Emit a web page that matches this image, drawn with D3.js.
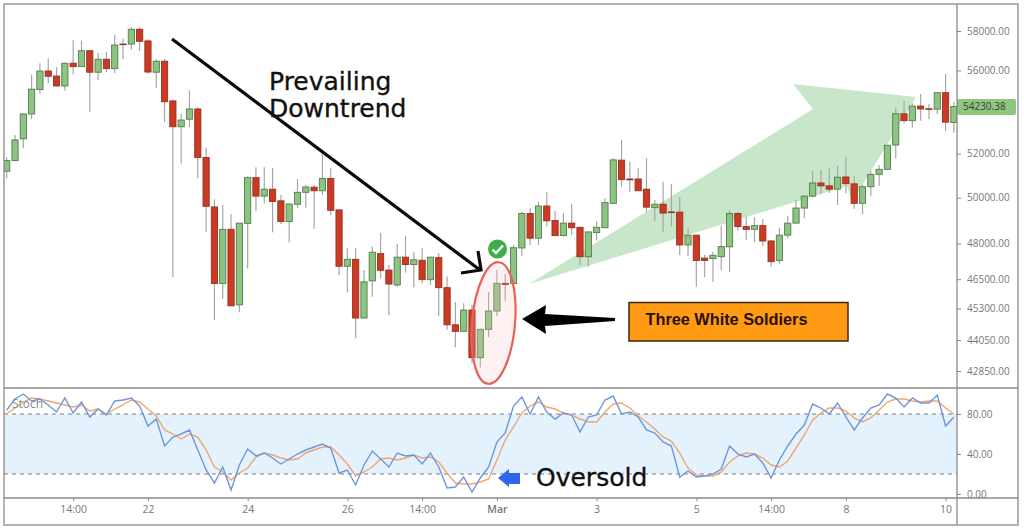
<!DOCTYPE html>
<html><head><meta charset="utf-8">
<script src="https://cdn.jsdelivr.net/npm/d3@7"></script>
<style>html,body{margin:0;padding:0;background:#fff;overflow:hidden}svg{display:block}text{font-family:"Open Sans",sans-serif}</style>
</head><body><svg id="c" width="1024" height="530"></svg>
<script>
const opens=[51190,51680,52690,53870,55050,55970,55720,55230,56360,56190,56990,55910,56560,56090,57330,57330,58090,57490,55910,56460,54500,53260,53620,54110,51820,49590,46320,48610,45450,48870,
50900,50070,50380,49860,48950,49710,50240,50470,50310,50860,49460,47040,47330,44920,46430,47570,46880,46260,47420,47110,47290,46480,47400,46150,44650,44390,45240,43360,44470,45200,
46330,46320,47810,49300,48230,49630,48990,48340,48880,48700,47440,48470,48680,49750,51700,50840,50840,50380,49560,49710,49370,49360,47940,48360,47380,47360,47440,47860,49300,48730,
48610,48770,48110,47280,48360,48880,49540,50070,50660,50530,50380,50930,50620,49750,50490,51050,51280,52400,53880,53550,54250,54120,54100,54900,53460];
const closes=[51680,52640,53870,55070,55970,55710,55230,56360,56190,56990,55910,56560,56090,57280,57300,58090,57470,55920,56460,54460,53260,53580,54110,51820,49620,46320,48610,45410,48880,50900,
50070,50380,49830,48950,49720,50240,50480,50310,50860,49440,47040,47330,44920,46390,47630,46870,46300,47420,47110,47310,46480,47420,46150,44650,44390,45240,43360,44470,45200,46330,
46280,47820,49300,48230,49630,48980,48340,48880,48680,47440,48500,48700,49780,51710,50810,50800,50310,49580,49710,49320,49340,47940,48360,47280,47280,47500,47870,49300,48730,48610,
48770,48110,47230,48360,48880,49540,50070,50660,50530,50380,50920,50630,49750,50490,51050,51280,52390,53880,53550,54250,54110,54100,54900,53480,54230];
const highs=[51830,52870,53900,55790,56360,56610,56160,56400,57540,57500,57030,56890,56940,57800,57610,58190,58190,57580,56560,56590,54550,53870,55020,54190,52280,49930,49680,49270,48880,50950,
51370,51370,51340,50120,49730,50840,50570,50570,52020,51340,49460,47800,47800,46880,47870,48450,47090,47980,48330,47650,47800,47440,47590,46610,45570,45510,45450,44480,45960,46880,
46720,47940,49380,49530,49830,50240,49420,49310,49720,48700,48500,48950,49980,51790,52640,51630,51330,51790,49900,50710,50600,50020,48660,48360,47510,47650,48770,49430,49380,49160,
49140,49050,48150,48680,49190,49900,50120,51200,51250,51330,51430,51860,50960,50570,51200,51480,52400,54170,54500,54390,54840,54350,54920,55820,54460];
const lows=[50870,51650,52250,53620,54850,55360,55200,55000,55810,56190,53970,55530,55910,55860,56560,57040,56980,55820,55130,53490,46580,51540,53250,50870,48510,44840,45690,45410,45150,46950,
49400,49750,48480,48830,48060,49540,49560,48640,50120,49240,46660,45950,44120,44910,45780,46540,45030,46190,46770,46170,46330,46260,44990,44450,43770,44390,43150,42980,44160,45000,
45620,46320,47480,47940,47940,48730,48340,48300,48370,47090,47020,48130,48680,49750,50490,50270,50300,49380,48980,48510,48730,47510,47470,46190,46580,46390,46880,46810,48550,48150,
48060,47900,47020,47140,48230,48880,49090,50020,50150,50220,49680,50200,49500,49280,50090,50520,51250,51790,53430,53220,53540,53620,53870,53060,52980];
const stochK=[84,95,100,93,95,89,82,96,81,92,77,85,79,93,94,96,88,68,75,48,57,60,64,44,24,11,27,4,29,45,38,41,36,30,35,40,44,47,50,46,21,
24,9,29,43,35,27,41,38,39,30,41,27,6,7,17,2,16,27,52,61,88,97,80,97,82,75,81,79,62,77,79,94,98,80,82,77,64,61,52,48,17,
23,17,18,20,25,48,40,37,40,31,16,34,48,60,69,90,86,80,91,77,64,76,86,89,100,96,87,96,91,91,99,68,77];
const stochD=[80,86,92,96,95,93,91,89,87,89,83,85,80,85,89,94,92,85,78,64,60,55,60,57,44,27,22,14,21,26,37,41,39,36,34,35,41,44,47,47,39,
30,18,22,27,35,36,34,36,39,36,37,32,21,11,10,10,12,15,34,54,67,81,88,92,87,85,81,79,75,72,72,82,90,91,86,78,72,65,57,53,41,
26,19,18,18,22,32,38,41,40,36,29,27,33,46,59,74,81,86,86,83,76,72,76,84,92,95,95,93,92,93,93,86,80];
const priceTicks=[58000,56000,52000,50000,48000,46500,45300,44050,42850];
const stochTicks=[80,40,0];
const lastPrice=54230.38;
const timeTickBars=[8,17,29,41,50,59,71,83,92,101,113];
const timeTickLabels=["14:00","22","24","26","14:00","Mar","3","5","14:00","8","10"];
const title1="Prevailing",title2="Downtrend",patternLabel="Three White Soldiers",oversoldLabel="Oversold",stochLabel="Stoch";

const svg=d3.select("#c");
const L=4,T=4,PR=957,R=1018,B=525,DIV=388,TA=498;
const x=d3.scaleLinear().domain([0,114]).range([6.7,953.9]);
const y=d3.scaleLog().domain([58000,42850]).range([31,371]);
const ys=d3.scaleLinear().domain([0,100]).range([494,394]);
const defs=svg.append("defs");
defs.append("clipPath").attr("id","pc").append("rect").attr("x",L).attr("y",T).attr("width",PR-L).attr("height",DIV-T);
defs.append("clipPath").attr("id","sc").append("rect").attr("x",L).attr("y",DIV).attr("width",PR-L).attr("height",TA-DIV);

svg.append("polygon").attr("points","529,284 813,109 793,84 916,97 852,202 847,186").attr("fill","#c8e6c9");

const price=svg.append("g").attr("clip-path","url(#pc)");
const idx=d3.range(opens.length);
price.selectAll(".w").data(idx).join("line").attr("class","w")
 .attr("x1",i=>x(i)).attr("x2",i=>x(i)).attr("y1",i=>y(highs[i])).attr("y2",i=>y(lows[i]))
 .attr("stroke","#a6a6a6").attr("stroke-width",1.2);
price.selectAll(".b").data(idx).join("rect").attr("class","b")
 .attr("x",i=>x(i)-3.1).attr("width",6.2)
 .attr("y",i=>y(Math.max(opens[i],closes[i])))
 .attr("height",i=>Math.max(0.6,Math.abs(y(opens[i])-y(closes[i]))))
 .attr("fill",i=>closes[i]>=opens[i]?"#8ec482":"#cd3a24")
 .attr("stroke",i=>closes[i]>=opens[i]?"#4f7d4c":"#96301f").attr("stroke-width",0.9);

const stoch=svg.append("g").attr("clip-path","url(#sc)");
stoch.append("rect").attr("x",L).attr("width",PR-L).attr("y",ys(80)).attr("height",ys(20)-ys(80)).attr("fill","#e3f2fd");
[80,20].forEach(v=>stoch.append("line").attr("x1",L).attr("x2",PR).attr("y1",ys(v)).attr("y2",ys(v))
 .attr("stroke","#7d7d7d").attr("stroke-width",1).attr("stroke-dasharray","4 4"));
const ln=d3.line().x((d,i)=>x(i)).y(d=>ys(d));
stoch.append("path").attr("d",ln(stochD)).attr("fill","none").attr("stroke","#f0a66e").attr("stroke-width",1.4);
stoch.append("path").attr("d",ln(stochK)).attr("fill","none").attr("stroke","#6e96de").attr("stroke-width",1.4);
svg.append("text").attr("x",12).attr("y",408).attr("font-size",12).attr("fill","#8a8a8a").text(stochLabel);

const gray="#777";
function style(g,size){g.select(".domain").remove();g.selectAll("line").attr("stroke","#888");
 g.selectAll("text").attr("fill",gray).style("font-size",size+"px").style("font-family",'"Open Sans",sans-serif');}
svg.append("g").attr("transform",`translate(${PR},0)`)
 .call(d3.axisRight(y).tickValues(priceTicks).tickFormat(d3.format(".2f")).tickSize(4).tickPadding(6)).call(style,10);
svg.append("g").attr("transform",`translate(${PR},0)`)
 .call(d3.axisRight(ys).tickValues(stochTicks).tickFormat(d3.format(".2f")).tickSize(4).tickPadding(6)).call(style,10);
const xa=svg.append("g").attr("transform",`translate(0,${TA})`)
 .call(d3.axisBottom(x).tickValues(timeTickBars).tickFormat((d,i)=>timeTickLabels[i]).tickSize(3).tickPadding(5)).call(style,10.5);
xa.selectAll("text").filter(d=>d===59).style("font-weight",600);

svg.append("rect").attr("x",PR).attr("y",y(lastPrice)-7.5).attr("width",59).attr("height",16).attr("rx",2).attr("fill","#8fc57f");
svg.append("text").attr("x",PR+6).attr("y",y(lastPrice)+0.5).attr("dy","0.32em").attr("font-size",10).attr("fill","#3c3c3c").text(d3.format(".2f")(lastPrice));

const fr=svg.append("g").attr("stroke","#8a8a8a").attr("stroke-width",1.3).attr("fill","none");
fr.append("rect").attr("x",L).attr("y",T).attr("width",R-L).attr("height",B-T);
fr.append("line").attr("x1",PR).attr("x2",PR).attr("y1",T).attr("y2",B);
fr.append("line").attr("x1",L).attr("x2",R).attr("y1",DIV).attr("y2",DIV);
fr.append("line").attr("x1",L).attr("x2",R).attr("y1",TA).attr("y2",TA);

svg.append("ellipse").attr("transform","translate(493.5,323) rotate(5)").attr("rx",21.5).attr("ry",61)
 .attr("fill","rgba(244,190,190,0.22)").attr("stroke","#e8605a").attr("stroke-width",2.2);
svg.append("path").attr("d","M172,39L480,270").attr("stroke","#0a0a0a").attr("stroke-width",3.2).attr("fill","none");
svg.append("path").attr("d","M478,251L481,270L461,273").attr("stroke","#0a0a0a").attr("stroke-width",3.2).attr("fill","none");
svg.append("circle").attr("cx",497.5).attr("cy",249).attr("r",9.5).attr("fill","#3fae49");
svg.append("path").attr("d","M492.5,249.5L496,253L503,245.5").attr("stroke","#fff").attr("stroke-width",2.4).attr("fill","none");
svg.append("polygon").attr("points","522,319 546,305 545,314 615,318 615,321 545,326 546,334").attr("fill","#000");
svg.append("rect").attr("x",629).attr("y",302.5).attr("width",219).attr("height",38.5).attr("fill","#ff9a14").attr("stroke","#3a2a10").attr("stroke-width",1.5);
svg.append("text").attr("x",645.5).attr("y",325).attr("font-size",16.3).attr("font-weight",700)
 .style("font-family","'Liberation Sans',Arial,sans-serif").attr("fill","#2a1000").text(patternLabel);
svg.append("polygon").attr("points","498,478 509,469 509,473 520,473 520,484 509,484 509,487").attr("fill","#2f64ec");
const big=(t,xp,yp)=>svg.append("text").attr("x",xp).attr("y",yp).attr("font-size",25).style("font-family","'DejaVu Sans',sans-serif")
 .attr("fill","#111").attr("stroke","#111").attr("stroke-width",0.35).text(t);
big(title1,269,89.5);big(title2,269,116.5);big(oversoldLabel,536,486);
</script></body></html>
